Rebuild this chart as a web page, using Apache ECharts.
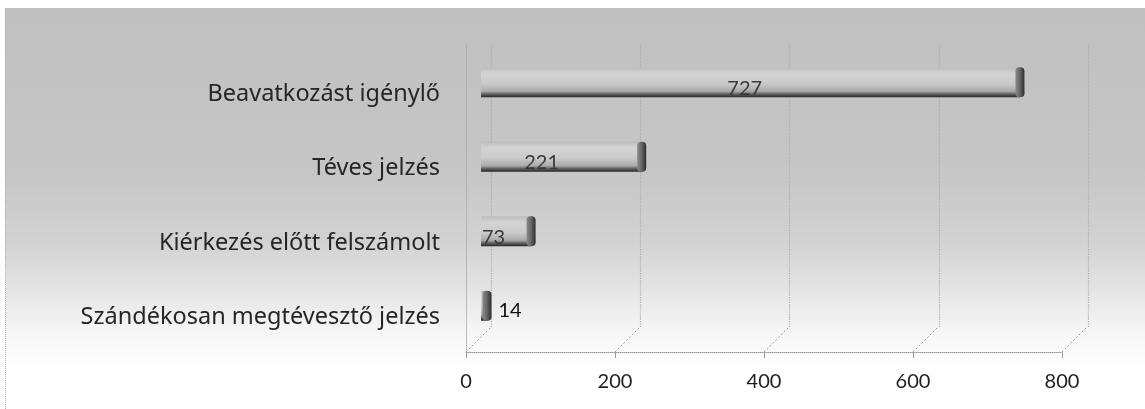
<!DOCTYPE html>
<html>
<head>
<meta charset="utf-8">
<script src="https://cdn.jsdelivr.net/npm/echarts@6/dist/echarts.min.js"></script>
<style>
  html, body { margin: 0; padding: 0; background: #fff; }
  #wrap { position: relative; width: 1145px; height: 409px; overflow: hidden; }
  #bg {
    position: absolute; left: 5px; top: 8px; right: 0; bottom: 0;
    border-left: 1px dotted #b0b0b0;
    background: linear-gradient(to bottom, #c0c0c0 0%, #c6c6c6 40%, #d2d2d2 58%, #e4e4e4 70%, #f5f5f5 80%, #ffffff 90%);
  }
  #chart { position: absolute; left: 0; top: 0; width: 1145px; height: 409px; }
</style>
</head>
<body>
<div id="wrap">
  <div id="bg"></div>
  <div id="chart"></div>
</div>
<script>
// Riasztások típus szerint
const categories = [
  'Beavatkozást igénylő',
  'Téves jelzés',
  'Kiérkezés előtt felszámolt',
  'Szándékosan megtévesztő jelzés'
];
const values = [727, 221, 73, 14];
const tickValues = [0, 200, 400, 600, 800];

const LABEL_FONT = '"Noto Sans", "Open Sans", sans-serif';
const NUM_FONT = 'Lato, "Noto Sans", sans-serif';
const DEPTH = 25; // perspective offset of the floor

const chart = echarts.init(document.getElementById('chart'), null, { renderer: 'canvas' });

const bodyGradient = new echarts.graphic.LinearGradient(0, 0, 0, 1, [
  { offset: 0, color: '#bcbcbc' },
  { offset: 0.2, color: '#d4d4d4' },
  { offset: 0.55, color: '#cacaca' },
  { offset: 0.8, color: '#aaaaaa' },
  { offset: 0.9, color: '#5e5e5e' },
  { offset: 1, color: '#262626' }
]);

const barData = values.map(function (v) {
  let pos = 'inside', color = '#3a3a3a', offset = [-8, 6];
  if (v < 50) { pos = 'right'; color = '#111'; offset = [2, 5]; }
  else if (v < 100) { pos = 'insideLeft'; offset = [-4, 6]; }
  else if (v < 500) { offset = [-22, 6]; }
  return { value: v, label: { position: pos, color: color, offset: offset } };
});

const capData = values.map(function (v, i) { return [v, i]; });

const hiddenValueAxis = function (gridIndex) {
  return {
    gridIndex: gridIndex, type: 'value', min: 0, max: 800, interval: 200,
    axisLine: { show: false }, axisTick: { show: false }, axisLabel: { show: false },
    splitLine: { show: false }
  };
};

chart.setOption({
  animation: false,
  backgroundColor: 'transparent',
  grid: [
    // front edge of the floor
    { left: 466, right: 83, top: 45, bottom: 57 },
    // back wall
    { left: 491, right: 57, top: 45, bottom: 82 },
    // bars
    { left: 481, right: 66, top: 45, bottom: 66 },
    // category names, seen slightly lower in perspective
    { left: 481, right: 66, top: 57, bottom: 54 }
  ],
  xAxis: [
    {
      gridIndex: 0, type: 'value', min: 0, max: 800, interval: 200,
      axisLine: { show: true, lineStyle: { color: '#9a9a9a', type: 'dotted', width: 1 } },
      axisTick: { show: true, length: 6, lineStyle: { color: '#9a9a9a' } },
      axisLabel: { show: true, color: '#1e1e1e', fontFamily: NUM_FONT, fontSize: 20, margin: 20 },
      splitLine: { show: false }
    },
    {
      gridIndex: 1, type: 'value', min: 0, max: 800, interval: 200,
      axisLine: { show: false }, axisTick: { show: false }, axisLabel: { show: false },
      splitLine: { show: true, lineStyle: { color: '#acacac', type: 'dotted', width: 1.2 } }
    },
    hiddenValueAxis(2),
    hiddenValueAxis(3)
  ],
  yAxis: [
    {
      gridIndex: 0, type: 'value', min: 0, max: 1,
      axisLine: { show: true, lineStyle: { color: '#acacac', type: 'dotted', width: 1 } },
      axisTick: { show: false }, axisLabel: { show: false }, splitLine: { show: false }
    },
    {
      gridIndex: 1, type: 'value', min: 0, max: 1,
      axisLine: { show: false }, axisTick: { show: false }, axisLabel: { show: false }, splitLine: { show: false }
    },
    {
      gridIndex: 2, type: 'category', data: categories, inverse: true,
      axisLine: { show: false }, axisTick: { show: false }, splitLine: { show: false },
      axisLabel: { show: false }
    },
    {
      gridIndex: 3, type: 'category', data: categories, inverse: true,
      axisLine: { show: false }, axisTick: { show: false }, splitLine: { show: false },
      axisLabel: { color: '#262626', fontFamily: LABEL_FONT, fontSize: 23.5, margin: 41 }
    }
  ],
  series: [
    {
      // diagonal floor lines from the front ticks to the back wall
      type: 'custom', xAxisIndex: 0, yAxisIndex: 0, silent: true, z: 1,
      data: tickValues.map(function (t) { return [t, 0]; }),
      renderItem: function (params, api) {
        const p = api.coord([api.value(0), 0]);
        return {
          type: 'line',
          shape: { x1: p[0], y1: p[1], x2: p[0] + DEPTH, y2: p[1] - DEPTH },
          style: { stroke: '#9a9a9a', lineWidth: 1, lineDash: [2, 2] }
        };
      }
    },
    {
      type: 'bar', xAxisIndex: 2, yAxisIndex: 2, z: 3,
      data: barData,
      barWidth: 30,
      itemStyle: { color: bodyGradient, borderRadius: [0, 5, 5, 0] },
      label: { show: true, fontFamily: NUM_FONT, fontSize: 20 }
    },
    {
      // rounded end cap of each bar
      type: 'custom', xAxisIndex: 2, yAxisIndex: 2, z: 4, silent: true,
      data: capData,
      renderItem: function (params, api) {
        const end = api.coord([api.value(0), api.value(1)]);
        const h = api.size([0, 1])[1] * 0.4;
        const w = 9;
        return {
          type: 'rect',
          shape: { x: end[0] - w, y: end[1] - h / 2, width: w, height: h, r: 4 },
          style: {
            fill: new echarts.graphic.LinearGradient(0, 0, 1, 0, [
              { offset: 0, color: '#8a8a8a' },
              { offset: 0.45, color: '#6a6a6a' },
              { offset: 1, color: '#2c2c2c' }
            ])
          }
        };
      }
    }
  ]
});
</script>
</body>
</html>
